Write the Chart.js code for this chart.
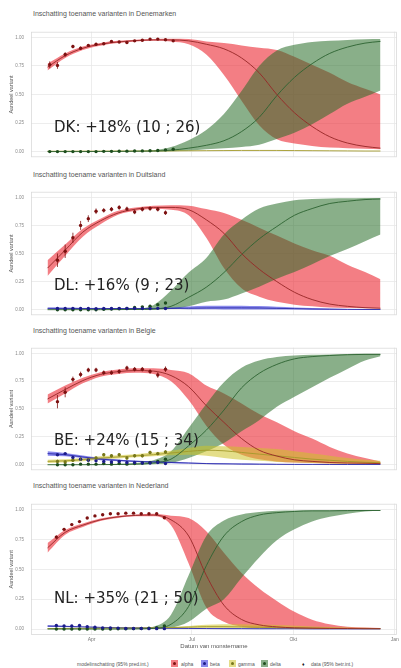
<!DOCTYPE html>
<html>
<head>
<meta charset="utf-8">
<script src="https://cdn.jsdelivr.net/npm/chart.js@4"></script>
<style>
body { margin: 0; background: #fff; width: 401px; height: 668px; position: relative; overflow: hidden; font-family: "Liberation Sans", Arial, sans-serif; }
canvas { position: absolute; left: 0; }
.titel { position: absolute; left: 33px; font-size: 7px; line-height: 8px; color: #555; white-space: nowrap; }
.noot { position: absolute; left: 54px; font-family: "DejaVu Sans", sans-serif; font-size: 15px; line-height: 16px; color: #222; white-space: nowrap; z-index: 2; }
.lg { position: absolute; top: 661px; font-size: 5px; line-height: 6px; color: #555; white-space: nowrap; }
.key { position: absolute; top: 660px; width: 7px; height: 7px; }
.key i { position: absolute; left: 2px; top: 2px; width: 3px; height: 3px; border-radius: 50%; }
</style>
</head>
<body>
<div class="titel" style="top:10px">Inschatting toename varianten in Denemarken</div>
<div class="titel" style="top:171px">Inschatting toename varianten in Duitsland</div>
<div class="titel" style="top:327px">Inschatting toename varianten in Belgie</div>
<div class="titel" style="top:482px">Inschatting toename varianten in Nederland</div>

<canvas id="dk" width="401" height="145" style="top:22px"></canvas>
<canvas id="dl" width="401" height="143" style="top:182px"></canvas>
<canvas id="be" width="401" height="142" style="top:338px"></canvas>
<canvas id="nl" width="401" height="156" style="top:494px"></canvas>

<div class="noot" style="top:119px">DK: +18% (10 ; 26)</div>
<div class="noot" style="top:277px">DL: +16% (9 ; 23)</div>
<div class="noot" style="top:432px">BE: +24% (15 ; 34)</div>
<div class="noot" style="top:590px">NL: +35% (21 ; 50)</div>

<div class="lg" style="left:77px">modelinschatting (95% pred.int.)</div>
<div class="key" style="left:171px;background:rgba(235,40,50,0.6)"><i style="background:#7d1212"></i></div>
<div class="lg" style="left:181px">alpha</div>
<div class="key" style="left:201px;background:rgba(40,40,220,0.55)"><i style="background:#1b1b8a"></i></div>
<div class="lg" style="left:210px">beta</div>
<div class="key" style="left:229px;background:rgba(205,195,40,0.55)"><i style="background:#77771a"></i></div>
<div class="lg" style="left:238px">gamma</div>
<div class="key" style="left:261px;background:rgba(40,110,40,0.55)"><i style="background:#1d4d1d"></i></div>
<div class="lg" style="left:270px">delta</div>
<div class="lg" style="left:302px;color:#222">&#9830;</div>
<div class="lg" style="left:311px">data (95% betr.int.)</div>

<script>
// dagen sinds 1 jan 2021
const modelDagen = [50, 66, 82, 98, 114, 130, 146, 162, 178, 194, 210, 226, 242, 258, 274, 290, 306, 322, 338, 352];
const tickDagen = [90, 181, 273, 365];
const tickLabels = ['Apr', 'Jul', 'Okt', 'Jan'];
const yTicks = [0, 0.25, 0.5, 0.75, 1];

// Denemarken
const dkAlpha   = [0.74, 0.84, 0.905, 0.94, 0.96, 0.972, 0.978, 0.978, 0.97, 0.94, 0.90, 0.82, 0.69, 0.50, 0.34, 0.22, 0.13, 0.075, 0.045, 0.03];
const dkAlphaHi = [0.77, 0.86, 0.92, 0.952, 0.97, 0.98, 0.985, 0.988, 0.985, 0.965, 0.95, 0.93, 0.91, 0.89, 0.83, 0.76, 0.69, 0.61, 0.55, 0.50];
const dkAlphaLo = [0.71, 0.82, 0.89, 0.928, 0.95, 0.964, 0.97, 0.965, 0.94, 0.85, 0.67, 0.445, 0.23, 0.107, 0.07, 0.05, 0.035, 0.03, 0.025, 0.02];
const dkDelta   = [0, 0, 0, 0.001, 0.002, 0.003, 0.005, 0.012, 0.03, 0.055, 0.095, 0.175, 0.30, 0.49, 0.65, 0.77, 0.86, 0.915, 0.95, 0.965];
const dkDeltaHi = [0.002, 0.002, 0.003, 0.004, 0.005, 0.007, 0.012, 0.04, 0.10, 0.19, 0.33, 0.53, 0.75, 0.885, 0.935, 0.96, 0.97, 0.978, 0.983, 0.985];
const dkDeltaLo = [0, 0, 0, 0, 0, 0, 0.001, 0.003, 0.008, 0.02, 0.03, 0.04, 0.06, 0.11, 0.165, 0.24, 0.33, 0.42, 0.48, 0.535];
const dkGamma   = [0.003, 0.003, 0.004, 0.004, 0.005, 0.005, 0.006, 0.006, 0.007, 0.008, 0.009, 0.01, 0.01, 0.01, 0.009, 0.008, 0.007, 0.006, 0.005, 0.005];
const dkMeetDagen = [52, 59, 66, 73, 80, 87, 94, 101, 108, 115, 122, 129, 136, 143, 150, 157, 164];
const dkAlphaObs  = [0.76, 0.755, 0.85, 0.92, 0.905, 0.93, 0.94, 0.945, 0.965, 0.96, 0.955, 0.97, 0.975, 0.985, 0.985, 0.98, 0.97];
const dkAlphaFout = [0.03, 0.03, 0.02, 0.015, 0.015, 0.01, 0.01, 0.01, 0.01, 0.01, 0.01, 0.008, 0.008, 0.008, 0.008, 0.008, 0.01];
const dkDeltaObs  = [0, 0, 0, 0, 0, 0, 0, 0.002, 0.002, 0.003, 0.004, 0.005, 0.006, 0.008, 0.01, 0.015, 0.02];

// Duitsland
const dlAlpha   = [0.37, 0.53, 0.69, 0.79, 0.86, 0.895, 0.91, 0.91, 0.89, 0.80, 0.68, 0.50, 0.36, 0.25, 0.155, 0.09, 0.05, 0.03, 0.018, 0.013];
const dlAlphaHi = [0.44, 0.58, 0.72, 0.81, 0.88, 0.91, 0.925, 0.93, 0.925, 0.895, 0.86, 0.80, 0.73, 0.66, 0.59, 0.53, 0.48, 0.40, 0.335, 0.27];
const dlAlphaLo = [0.30, 0.48, 0.65, 0.76, 0.845, 0.88, 0.895, 0.89, 0.84, 0.64, 0.37, 0.19, 0.115, 0.07, 0.045, 0.03, 0.02, 0.015, 0.013, 0.01];
const dlDelta   = [0, 0, 0, 0, 0.001, 0.002, 0.005, 0.03, 0.11, 0.20, 0.33, 0.49, 0.63, 0.74, 0.84, 0.90, 0.945, 0.965, 0.98, 0.985];
const dlDeltaHi = [0.001, 0.001, 0.002, 0.003, 0.004, 0.008, 0.04, 0.17, 0.33, 0.46, 0.67, 0.80, 0.90, 0.945, 0.975, 0.985, 0.99, 0.992, 0.995, 0.995];
const dlDeltaLo = [0, 0, 0, 0, 0, 0, 0, 0.005, 0.03, 0.07, 0.09, 0.145, 0.205, 0.275, 0.335, 0.405, 0.477, 0.54, 0.61, 0.67];
const dlBeta    = [0.012, 0.012, 0.011, 0.011, 0.01, 0.01, 0.01, 0.011, 0.013, 0.015, 0.016, 0.016, 0.015, 0.012, 0.009, 0.006, 0.004, 0.003, 0.002, 0.002];
const dlBetaHi  = [0.02, 0.018, 0.016, 0.015, 0.014, 0.014, 0.015, 0.02, 0.028, 0.034, 0.036, 0.035, 0.032, 0.026, 0.02, 0.014, 0.01, 0.007, 0.005, 0.004];
const dlBetaLo  = [0.006, 0.007, 0.007, 0.007, 0.006, 0.006, 0.006, 0.005, 0.004, 0.003, 0.002, 0.002, 0.001, 0.001, 0.001, 0, 0, 0, 0, 0];
const dlMeetDagen = [59, 66, 73, 80, 87, 94, 101, 108, 115, 122, 129, 136, 143, 150, 157];
const dlAlphaObs  = [0.44, 0.52, 0.64, 0.75, 0.81, 0.876, 0.884, 0.894, 0.91, 0.897, 0.87, 0.894, 0.90, 0.894, 0.863];
const dlAlphaFout = [0.06, 0.06, 0.045, 0.04, 0.03, 0.025, 0.02, 0.02, 0.02, 0.02, 0.02, 0.02, 0.02, 0.02, 0.02];
const dlBetaObs   = [0.01, 0.01, 0.012, 0.01, 0.01, 0.008, 0.01, 0.01, 0.012, 0.01, 0.01, 0.01, 0.01, 0.012, 0.01];
const dlDeltaObs  = [0, 0, 0, 0, 0, 0, 0.003, 0.005, 0.008, 0.01, 0.02, 0.025, 0.03, 0.045, 0.06];

// Belgie
const beAlpha   = [0.59, 0.675, 0.755, 0.81, 0.835, 0.845, 0.84, 0.80, 0.70, 0.53, 0.38, 0.235, 0.13, 0.078, 0.044, 0.03, 0.02, 0.015, 0.013, 0.01];
const beAlphaHi = [0.63, 0.71, 0.78, 0.83, 0.855, 0.865, 0.865, 0.85, 0.82, 0.71, 0.64, 0.55, 0.455, 0.38, 0.30, 0.235, 0.16, 0.10, 0.06, 0.03];
const beAlphaLo = [0.55, 0.64, 0.73, 0.79, 0.815, 0.825, 0.815, 0.75, 0.58, 0.35, 0.18, 0.09, 0.05, 0.03, 0.02, 0.015, 0.01, 0.01, 0.008, 0.006];
const beDelta   = [0, 0, 0, 0.001, 0.002, 0.005, 0.015, 0.05, 0.17, 0.31, 0.49, 0.69, 0.82, 0.90, 0.95, 0.97, 0.98, 0.987, 0.99, 0.99];
const beDeltaHi = [0.002, 0.002, 0.003, 0.004, 0.008, 0.015, 0.04, 0.12, 0.33, 0.545, 0.74, 0.87, 0.935, 0.966, 0.98, 0.987, 0.99, 0.993, 0.995, 0.995];
const beDeltaLo = [0, 0, 0, 0, 0, 0.001, 0.004, 0.015, 0.06, 0.12, 0.195, 0.30, 0.40, 0.52, 0.61, 0.695, 0.78, 0.86, 0.935, 0.974];
const beGamma   = [0.03, 0.035, 0.045, 0.06, 0.07, 0.08, 0.09, 0.105, 0.12, 0.13, 0.125, 0.11, 0.095, 0.08, 0.065, 0.05, 0.04, 0.03, 0.022, 0.018];
const beGammaHi = [0.045, 0.05, 0.06, 0.075, 0.085, 0.095, 0.11, 0.125, 0.15, 0.17, 0.165, 0.16, 0.15, 0.14, 0.12, 0.10, 0.08, 0.06, 0.045, 0.035];
const beGammaLo = [0.015, 0.022, 0.032, 0.045, 0.055, 0.066, 0.075, 0.085, 0.09, 0.08, 0.06, 0.045, 0.035, 0.025, 0.02, 0.015, 0.01, 0.008, 0.006, 0.005];
const beBeta    = [0.10, 0.09, 0.07, 0.05, 0.04, 0.03, 0.025, 0.02, 0.015, 0.01, 0.008, 0.006, 0.005, 0.004, 0.003, 0.003, 0.002, 0.002, 0.002, 0.002];
const beBetaHi  = [0.12, 0.105, 0.082, 0.06, 0.048, 0.037, 0.031, 0.026, 0.021, 0.016, 0.013, 0.01, 0.009, 0.007, 0.006, 0.005, 0.004, 0.004, 0.003, 0.003];
const beBetaLo  = [0.08, 0.075, 0.058, 0.04, 0.032, 0.024, 0.019, 0.014, 0.01, 0.006, 0.004, 0.003, 0.002, 0.002, 0.001, 0.001, 0.001, 0.001, 0.001, 0.001];
const beMeetDagen = [59, 66, 73, 80, 87, 94, 101, 108, 115, 122, 129, 136, 143, 150, 157];
const beAlphaObs  = [0.566, 0.65, 0.766, 0.81, 0.85, 0.85, 0.826, 0.826, 0.836, 0.868, 0.857, 0.857, 0.836, 0.805, 0.857];
const beAlphaFout = [0.06, 0.045, 0.025, 0.025, 0.02, 0.02, 0.02, 0.02, 0.02, 0.02, 0.02, 0.02, 0.02, 0.025, 0.025];
const beBetaObs   = [0.09, 0.10, 0.065, 0.05, 0.04, 0.035, 0.03, 0.025, 0.03, 0.02, 0.02, 0.015, 0.015, 0.02, 0.01];
const beGammaObs  = [0.03, 0.025, 0.04, 0.05, 0.045, 0.06, 0.09, 0.08, 0.09, 0.06, 0.08, 0.08, 0.11, 0.10, 0.115];
const beGammaFout = [0.015, 0.015, 0.015, 0.015, 0.015, 0.015, 0.015, 0.015, 0.015, 0.015, 0.015, 0.015, 0.015, 0.015, 0.015];
const beDeltaObs  = [0, 0, 0, 0.005, 0.005, 0.005, 0.01, 0.005, 0.01, 0.005, 0.01, 0.015, 0.02, 0.03, 0.05];

// Nederland
const nlAlpha   = [0.68, 0.81, 0.87, 0.915, 0.94, 0.952, 0.955, 0.915, 0.78, 0.45, 0.20, 0.08, 0.035, 0.018, 0.01, 0.007, 0.005, 0.004, 0.003, 0.003];
const nlAlphaHi = [0.72, 0.83, 0.885, 0.925, 0.95, 0.96, 0.965, 0.95, 0.93, 0.82, 0.64, 0.47, 0.34, 0.235, 0.144, 0.078, 0.04, 0.02, 0.013, 0.008];
const nlAlphaLo = [0.64, 0.79, 0.855, 0.905, 0.93, 0.944, 0.945, 0.87, 0.55, 0.18, 0.06, 0.02, 0.008, 0.004, 0.003, 0.002, 0.002, 0.001, 0.001, 0.001];
const nlDelta   = [0, 0, 0, 0, 0, 0.001, 0.005, 0.04, 0.19, 0.53, 0.78, 0.90, 0.955, 0.975, 0.985, 0.99, 0.99, 0.992, 0.993, 0.993];
const nlDeltaHi = [0.001, 0.001, 0.001, 0.002, 0.003, 0.005, 0.02, 0.12, 0.45, 0.78, 0.91, 0.96, 0.98, 0.99, 0.993, 0.995, 0.996, 0.997, 0.997, 0.997];
const nlDeltaLo = [0, 0, 0, 0, 0, 0, 0.001, 0.01, 0.06, 0.17, 0.25, 0.43, 0.60, 0.744, 0.835, 0.90, 0.94, 0.966, 0.984, 0.99];
const nlBeta    = [0.025, 0.022, 0.018, 0.014, 0.011, 0.009, 0.007, 0.006, 0.005, 0.004, 0.003, 0.003, 0.002, 0.002, 0.002, 0.001, 0.001, 0.001, 0.001, 0.001];
const nlBetaHi  = [0.032, 0.027, 0.022, 0.017, 0.014, 0.012, 0.01, 0.009, 0.008, 0.007, 0.006, 0.005, 0.004, 0.003, 0.003, 0.002, 0.002, 0.002, 0.002, 0.002];
const nlBetaLo  = [0.018, 0.017, 0.014, 0.011, 0.008, 0.006, 0.005, 0.004, 0.003, 0.002, 0.001, 0.001, 0.001, 0.001, 0.001, 0, 0, 0, 0, 0];
const nlGamma   = [0.004, 0.005, 0.006, 0.007, 0.008, 0.009, 0.01, 0.012, 0.016, 0.02, 0.02, 0.018, 0.015, 0.012, 0.01, 0.008, 0.006, 0.005, 0.004, 0.003];
const nlGammaHi = [0.007, 0.008, 0.009, 0.01, 0.011, 0.012, 0.014, 0.018, 0.026, 0.035, 0.04, 0.04, 0.037, 0.033, 0.028, 0.022, 0.017, 0.013, 0.01, 0.008];
const nlGammaLo = [0.002, 0.003, 0.004, 0.005, 0.006, 0.007, 0.007, 0.007, 0.008, 0.008, 0.007, 0.006, 0.005, 0.004, 0.003, 0.002, 0.002, 0.001, 0.001, 0.001];
const nlMeetDagen = [58, 65, 72, 79, 86, 93, 100, 107, 114, 121, 128, 135, 142, 149, 156];
const nlAlphaObs  = [0.77, 0.835, 0.875, 0.90, 0.93, 0.948, 0.958, 0.966, 0.966, 0.971, 0.971, 0.966, 0.966, 0.966, 0.932];
const nlAlphaFout = [0.015, 0.012, 0.01, 0.01, 0.008, 0.008, 0.006, 0.006, 0.006, 0.006, 0.006, 0.006, 0.006, 0.006, 0.01];
const nlBetaObs   = [0.03, 0.025, 0.025, 0.03, 0.02, 0.015, 0.01, 0.01, 0.008, 0.005, 0.005, 0.005, 0.003, 0.003, 0.003];
const nlDeltaObs  = [0, 0, 0, 0, 0, 0, 0, 0, 0.002, 0.002, 0.003, 0.005, 0.008, 0.012, 0.025];

const kleuren = {
    alpha: { band: 'rgba(235,40,50,0.6)',   lijn: '#962626', punt: '#7d1212' },
    beta:  { band: 'rgba(40,40,220,0.55)',  lijn: '#2d2da8', punt: '#1b1b8a' },
    gamma: { band: 'rgba(205,195,40,0.55)', lijn: '#a39a2a', punt: '#77771a' },
    delta: { band: 'rgba(40,110,40,0.55)',  lijn: '#2c6331', punt: '#1d4d1d' }
};

function punten(dagen, waarden) {
    return waarden.map((v, i) => ({ x: dagen[i], y: v }));
}

// foutbalken en paneelrand
const foutbalken = {
    id: 'foutbalken',
    afterDatasetsDraw(chart) {
        const { ctx, scales: { x, y } } = chart;
        chart.data.datasets.forEach(ds => {
            if (!ds.fout) return;
            ctx.save();
            ctx.strokeStyle = ds.borderColor;
            ctx.lineWidth = 0.8;
            ds.data.forEach((p, j) => {
                const px = x.getPixelForValue(p.x);
                ctx.beginPath();
                ctx.moveTo(px, y.getPixelForValue(p.y - ds.fout[j]));
                ctx.lineTo(px, y.getPixelForValue(p.y + ds.fout[j]));
                ctx.stroke();
            });
            ctx.restore();
        });
    }
};

const kader = {
    id: 'kader',
    afterDraw(chart) {
        const a = chart.chartArea;
        const ctx = chart.ctx;
        ctx.save();
        ctx.strokeStyle = '#dadada';
        ctx.lineWidth = 0.8;
        ctx.strokeRect(a.left + 0.5, a.top + 0.5, a.right - a.left - 1, a.bottom - a.top - 1);
        ctx.restore();
    }
};

function maakPaneel(id, varianten, metingen, onderste) {
    const datasets = [];
    varianten.forEach((v, k) => {
        const c = kleuren[v.naam];
        if (v.lo) {
            const loIdx = datasets.length;
            datasets.push({ data: punten(modelDagen, v.lo), borderWidth: 0, pointRadius: 0, fill: false, order: 20 - k, cubicInterpolationMode: 'monotone' });
            datasets.push({ data: punten(modelDagen, v.hi), borderWidth: 0, pointRadius: 0, fill: loIdx, backgroundColor: c.band, order: 20 - k, cubicInterpolationMode: 'monotone' });
        }
        datasets.push({ data: punten(modelDagen, v.lijn), borderColor: c.lijn, borderWidth: 0.9, pointRadius: 0, fill: false, order: 2, cubicInterpolationMode: 'monotone' });
    });
    metingen.forEach(m => {
        const c = kleuren[m.naam];
        datasets.push({ data: punten(m.dagen, m.waarden), fout: m.fout, showLine: false, pointRadius: 1.7, pointBorderWidth: 0, pointBackgroundColor: c.punt, borderColor: c.punt, order: 1 });
    });

    new Chart(document.getElementById(id).getContext('2d'), {
        type: 'line',
        data: { datasets },
        options: {
            responsive: false,
            animation: false,
            layout: { padding: 0 },
            plugins: { legend: { display: false }, tooltip: { enabled: false } },
            scales: {
                x: {
                    type: 'linear', min: 35, max: 367, offset: false,
                    afterBuildTicks: s => { s.ticks = tickDagen.map(v => ({ value: v })); },
                    afterFit: s => { s.height = onderste ? 15 : 0; },
                    grid: { color: '#e9e9e9', lineWidth: 0.8, drawTicks: false },
                    border: { display: false },
                    ticks: { display: onderste, padding: 2, font: { size: 5 }, color: '#777', callback: (v, i) => tickLabels[i] },
                    title: { display: onderste, text: 'Datum van monstername', font: { size: 6 }, color: '#555', padding: { top: 0, bottom: 0 } }
                },
                y: {
                    min: -0.05, max: 1.05,
                    afterBuildTicks: s => { s.ticks = yTicks.map(v => ({ value: v })); },
                    afterFit: s => { s.width = 31; },
                    grid: { color: '#e9e9e9', lineWidth: 0.8, drawTicks: false },
                    border: { display: false },
                    ticks: { padding: 7, font: { size: 4.5 }, color: '#888', callback: v => v.toFixed(2) },
                    title: { display: true, text: 'Aandeel variant', font: { size: 5.5 }, color: '#555', padding: { top: 8, bottom: 0 } }
                }
            }
        },
        plugins: [foutbalken, kader]
    });
}

maakPaneel('dk',
    [
        { naam: 'alpha', lijn: dkAlpha, lo: dkAlphaLo, hi: dkAlphaHi },
        { naam: 'delta', lijn: dkDelta, lo: dkDeltaLo, hi: dkDeltaHi },
        { naam: 'gamma', lijn: dkGamma }
    ],
    [
        { naam: 'alpha', dagen: dkMeetDagen, waarden: dkAlphaObs, fout: dkAlphaFout },
        { naam: 'delta', dagen: dkMeetDagen, waarden: dkDeltaObs }
    ], false);

maakPaneel('dl',
    [
        { naam: 'alpha', lijn: dlAlpha, lo: dlAlphaLo, hi: dlAlphaHi },
        { naam: 'delta', lijn: dlDelta, lo: dlDeltaLo, hi: dlDeltaHi },
        { naam: 'beta', lijn: dlBeta, lo: dlBetaLo, hi: dlBetaHi }
    ],
    [
        { naam: 'alpha', dagen: dlMeetDagen, waarden: dlAlphaObs, fout: dlAlphaFout },
        { naam: 'beta', dagen: dlMeetDagen, waarden: dlBetaObs },
        { naam: 'delta', dagen: dlMeetDagen, waarden: dlDeltaObs }
    ], false);

maakPaneel('be',
    [
        { naam: 'alpha', lijn: beAlpha, lo: beAlphaLo, hi: beAlphaHi },
        { naam: 'delta', lijn: beDelta, lo: beDeltaLo, hi: beDeltaHi },
        { naam: 'gamma', lijn: beGamma, lo: beGammaLo, hi: beGammaHi },
        { naam: 'beta', lijn: beBeta, lo: beBetaLo, hi: beBetaHi }
    ],
    [
        { naam: 'alpha', dagen: beMeetDagen, waarden: beAlphaObs, fout: beAlphaFout },
        { naam: 'beta', dagen: beMeetDagen, waarden: beBetaObs },
        { naam: 'gamma', dagen: beMeetDagen, waarden: beGammaObs, fout: beGammaFout },
        { naam: 'delta', dagen: beMeetDagen, waarden: beDeltaObs }
    ], false);

maakPaneel('nl',
    [
        { naam: 'alpha', lijn: nlAlpha, lo: nlAlphaLo, hi: nlAlphaHi },
        { naam: 'delta', lijn: nlDelta, lo: nlDeltaLo, hi: nlDeltaHi },
        { naam: 'gamma', lijn: nlGamma, lo: nlGammaLo, hi: nlGammaHi },
        { naam: 'beta', lijn: nlBeta, lo: nlBetaLo, hi: nlBetaHi }
    ],
    [
        { naam: 'alpha', dagen: nlMeetDagen, waarden: nlAlphaObs, fout: nlAlphaFout },
        { naam: 'beta', dagen: nlMeetDagen, waarden: nlBetaObs },
        { naam: 'delta', dagen: nlMeetDagen, waarden: nlDeltaObs }
    ], true);
</script>
</body>
</html>
